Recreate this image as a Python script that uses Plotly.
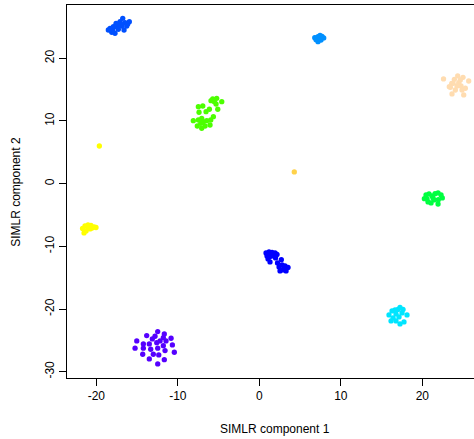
import plotly.graph_objects as go

# ---- data ----
purple_x = [-12.47, -13.82, -11.66, -11.78, -12.80, -13.13, -15.04, -14.23, -13.50, -12.59, -12.18, -11.45, -10.83,
            -15.25, -14.23, -13.33, -12.47, -11.78, -10.67, -11.57, -14.31, -12.34, -10.43, -13.50, -11.66, -12.47, -13.01]
purple_y = [-23.60, -24.24, -23.97, -24.56, -24.34, -24.77, -25.09, -25.57, -25.57, -25.36, -25.09, -25.09, -24.66,
            -26.25, -26.25, -26.41, -26.25, -25.84, -25.73, -26.63, -27.21, -27.32, -26.89, -27.96, -28.07, -28.76, -27.21]

lime_x = [-5.72, -5.23, -5.52, -4.61, -5.93, -5.31, -5.10, -7.48, -6.94, -7.40, -6.54, -6.13, -5.64,
          -8.10, -7.48, -7.07, -6.87, -6.45, -5.96, -7.61, -7.07, -6.66, -6.05, -7.19]
lime_y = [13.51, 13.62, 13.08, 13.08, 13.24, 12.71, 11.87, 12.28, 12.39, 11.39, 11.48, 11.87, 10.69,
          10.05, 10.16, 10.43, 9.89, 10.05, 10.16, 9.20, 8.84, 9.20, 9.36, 9.63]

blue_x = [-16.76, -15.95, -16.15, -16.48, -17.09, -17.30, -17.58, -16.88, -17.42, -17.91, -18.32, -18.53,
          -17.99, -17.71, -18.11, -17.30, -16.60, -16.27, -17.01]
blue_y = [26.38, 25.84, 25.47, 25.68, 25.84, 25.47, 25.58, 25.15, 24.94, 25.04, 24.78, 24.51,
          24.40, 23.99, 24.15, 24.63, 24.51, 25.15, 25.47]

sky_x = [6.80, 6.96, 7.20, 7.45, 7.69, 7.90, 7.57, 7.20, 7.33, 7.08]
sky_y = [23.29, 22.97, 23.44, 23.67, 23.51, 23.24, 22.92, 22.65, 23.16, 23.24]

peach_x = [22.60, 23.44, 23.64, 23.93, 24.34, 24.47, 24.05, 24.99, 25.69, 25.28, 25.08, 24.75, 24.26,
           23.77, 24.66, 24.87, 23.61, 23.31]
peach_y = [16.70, 15.37, 14.31, 16.65, 17.18, 16.11, 14.94, 16.97, 16.38, 15.22, 14.15, 15.58, 15.58,
           16.01, 16.54, 14.94, 16.01, 15.47]

gold_x = [4.29]
gold_y = [1.87]

yellow_x = [-19.63, -21.69, -21.39, -21.02, -20.66, -20.28, -20.04, -20.77, -21.26, -21.51, -21.02, -20.53]
yellow_y = [6.01, -7.15, -6.75, -6.59, -6.67, -6.91, -6.99, -7.22, -7.54, -7.86, -6.99, -7.07]

dblue_x = [0.82, 1.19, 1.56, 1.93, 2.17, 0.94, 1.31, 1.68, 1.07, 1.99, 1.31, 2.23, 2.70, 2.42, 2.79,
           3.15, 3.52, 2.54, 2.91, 3.28, 3.03]
dblue_y = [-11.05, -10.89, -10.97, -11.05, -11.29, -11.53, -11.61, -11.53, -12.01, -11.85, -12.49, -12.65,
           -12.12, -13.29, -12.97, -13.13, -13.37, -13.92, -13.76, -13.92, -13.44]

green_x = [20.25, 20.45, 20.82, 21.19, 21.56, 21.93, 22.30, 22.45, 21.96, 21.44, 20.70, 21.07, 21.93, 21.31, 20.58]
green_y = [-2.39, -1.80, -1.64, -1.96, -1.59, -1.48, -1.80, -2.28, -2.55, -2.60, -2.92, -3.08, -3.24, -2.28, -2.44]

cyan_x = [15.91, 16.28, 16.65, 17.02, 17.26, 17.63, 18.12, 17.51, 16.77, 17.14, 16.41, 16.77, 17.26, 17.75, 16.16]
cyan_y = [-20.94, -20.30, -20.14, -20.06, -19.74, -20.06, -20.94, -20.62, -20.78, -21.26, -21.42, -21.90,
          -22.38, -22.06, -21.90]

clusters = [
    ("purple", purple_x, purple_y, "#5500FF"),
    ("lime", lime_x, lime_y, "#4CFF00"),
    ("blue", blue_x, blue_y, "#0050FF"),
    ("sky", sky_x, sky_y, "#0090FF"),
    ("peach", peach_x, peach_y, "#FFDCB0"),
    ("gold", gold_x, gold_y, "#FFD24A"),
    ("yellow", yellow_x, yellow_y, "#FFFF00"),
    ("darkblue", dblue_x, dblue_y, "#0000FF"),
    ("green", green_x, green_y, "#00FF40"),
    ("cyan", cyan_x, cyan_y, "#00E5FF"),
]

x_ticks = [-20, -10, 0, 10, 20]
x_ticklabels = ["-20", "-10", "0", "10", "20"]
y_ticks = [-30, -20, -10, 0, 10, 20]
y_ticklabels = ["-30", "-20", "-10", "0", "10", "20"]

fig = go.Figure()
for name, xs, ys, col in clusters:
    fig.add_trace(go.Scatter(x=xs, y=ys, mode="markers", name=name,
                             marker=dict(size=5.3, color=col, line=dict(width=0))))

font = dict(family="Liberation Sans, Arial, sans-serif", size=12, color="black")
fig.update_layout(
    width=474, height=439,
    margin=dict(l=67, r=0, t=5, b=61),
    paper_bgcolor="white", plot_bgcolor="white",
    showlegend=False, font=font,
    xaxis=dict(range=[-23.6, 26.34], tickvals=x_ticks, ticktext=x_ticklabels, ticks="outside", ticklen=7,
               tickcolor="black", showline=True, linecolor="black", linewidth=1, mirror=True,
               showgrid=False, zeroline=False, tickfont=font),
    yaxis=dict(range=[-31.0, 28.5], tickvals=y_ticks, ticktext=y_ticklabels, ticks="outside", ticklen=7,
               tickcolor="black", showline=True, linecolor="black", linewidth=1, mirror=False,
               showgrid=False, zeroline=False, tickangle=-90, tickfont=font),
    annotations=[
        dict(text="SIMLR component 1", xref="paper", yref="paper", x=0.511, y=-0.138,
             showarrow=False, font=font, xanchor="center", yanchor="middle"),
        dict(text="SIMLR component 2", xref="paper", yref="paper", x=-0.127, y=0.5,
             showarrow=False, font=font, textangle=-90, xanchor="center", yanchor="middle"),
    ],
)
fig.write_html("out.html", config={"displayModeBar": False},
               post_script="document.body.style.margin='0';document.body.style.overflow='hidden';")
